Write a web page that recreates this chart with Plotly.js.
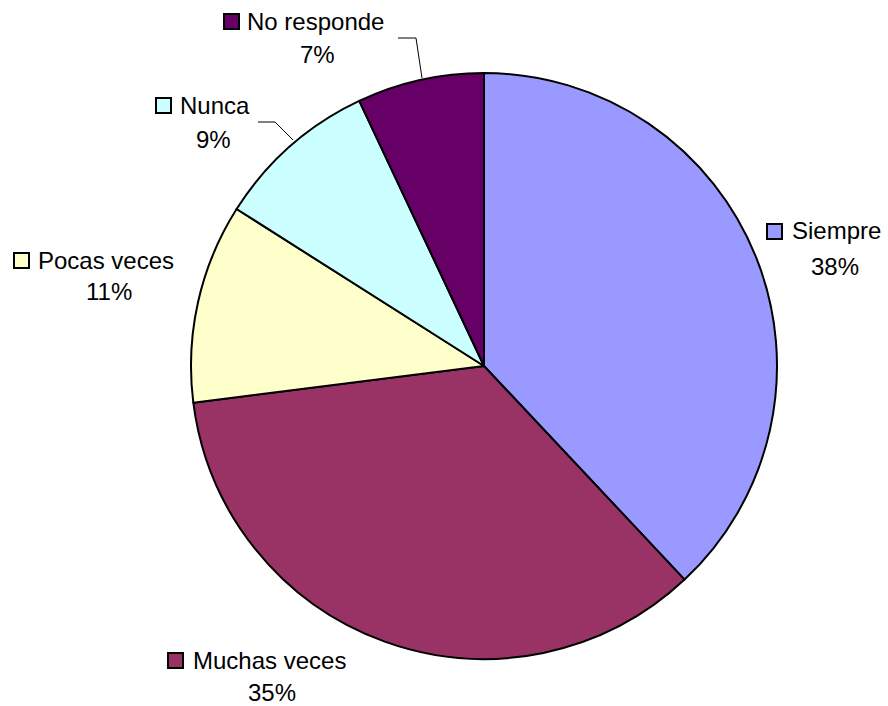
<!DOCTYPE html>
<html>
<head>
<meta charset="utf-8">
<script src="https://cdn.plot.ly/plotly-3.0.1.min.js"></script>
<style>html,body{margin:0;padding:0;background:#fff;}#chart{width:888px;height:706px;}</style>
</head>
<body>
<div id="chart"></div>
<script>
// Data
const categories = ["Siempre", "Muchas veces", "Pocas veces", "Nunca", "No responde"];
const percents = [38, 35, 11, 9, 7];
const colors = ["#9999FF", "#993366", "#FFFFCC", "#CCFFFF", "#660066"];

const W = 888, H = 706;
const px = x => x / W;
const py = y => 1 - y / H;

// Label layout (pixel positions of name line and percent line)
const labelPos = {
  "Siempre":      {sq: [767, 224], name: [790, 231], pct: [835, 266]},
  "Muchas veces": {sq: [168, 653], name: [191, 660], pct: [272, 692]},
  "Pocas veces":  {sq: [14, 253],  name: [36, 260],  pct: [109, 291]},
  "Nunca":        {sq: [156, 98],  name: [178, 106], pct: [213, 140]},
  "No responde":  {sq: [224, 14],  name: [245, 22],  pct: [317, 54]}
};

const font = {family: "Liberation Sans, Arial, sans-serif", size: 24, color: "#000"};
const annotations = [];
const shapes = [];
const SQ = 15;
categories.forEach((c, i) => {
  const p = labelPos[c];
  annotations.push({xref: "paper", yref: "paper", x: px(p.name[0]), y: py(p.name[1]),
    xanchor: "left", yanchor: "middle", text: c, showarrow: false, font: font});
  annotations.push({xref: "paper", yref: "paper", x: px(p.pct[0]), y: py(p.pct[1]),
    xanchor: "center", yanchor: "middle", text: percents[i] + "%", showarrow: false, font: font});
  shapes.push({type: "rect", xref: "paper", yref: "paper",
    x0: px(p.sq[0]), x1: px(p.sq[0] + SQ), y0: py(p.sq[1]), y1: py(p.sq[1] + SQ),
    fillcolor: colors[i], line: {color: "#000", width: 2}});
});

// Leader lines
const leaders = [
  [[398, 38], [416, 38], [422, 78]],
  [[258, 122], [275, 122], [293, 140]]
];
leaders.forEach(pts => {
  const d = pts.map((q, k) => (k ? "L" : "M") + px(q[0]) + "," + py(q[1])).join(" ");
  shapes.push({type: "path", xref: "paper", yref: "paper", path: d, line: {color: "#000", width: 1}});
});

const trace = {
  type: "pie",
  labels: categories,
  values: percents,
  sort: false,
  direction: "clockwise",
  rotation: 0,
  textinfo: "none",
  hoverinfo: "label+percent",
  marker: {colors: colors, line: {color: "#000", width: 2}},
  domain: {x: [px(191), px(777)], y: [py(659), py(73)]}
};

const layout = {
  width: W, height: H,
  margin: {l: 0, r: 0, t: 0, b: 0},
  paper_bgcolor: "#fff",
  showlegend: false,
  annotations: annotations,
  shapes: shapes
};

Plotly.newPlot("chart", [trace], layout, {displayModeBar: false, staticPlot: true});
</script>
</body>
</html>
